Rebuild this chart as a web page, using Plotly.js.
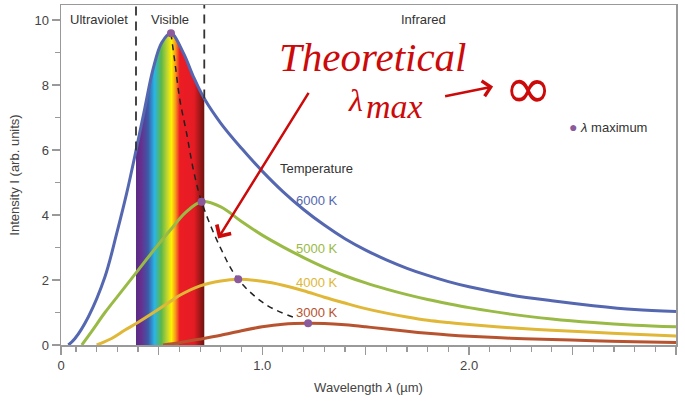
<!DOCTYPE html>
<html><head><meta charset="utf-8">
<script src="https://cdn.plot.ly/plotly-3.0.1.min.js"></script>
<style>html,body{margin:0;padding:0;background:#fff}#chart{width:685px;height:402px}</style>
</head><body><div id="chart"></div>
<script>
// Wavelength (µm) and intensity (arb. units)
const lam6000 = [0.063, 0.095, 0.16, 0.24, 0.297, 0.345, 0.39, 0.433, 0.473, 0.514, 0.559, 0.62, 0.667, 0.72, 0.8, 0.9, 1.0, 1.1, 1.2, 1.3, 1.4, 1.5, 1.6, 1.7, 1.8, 1.9, 2.0, 2.2, 2.4, 2.6, 2.8, 3.0];
const int6000 = [0, 0.2, 0.87, 2.1, 3.44, 4.67, 5.98, 7.3, 8.5, 9.3, 9.59, 8.97, 8.26, 7.58, 6.82, 6.05, 5.35, 4.72, 4.17, 3.69, 3.27, 2.92, 2.62, 2.36, 2.14, 1.95, 1.79, 1.54, 1.36, 1.21, 1.09, 1.03];
const lam5000 = [0.128, 0.176, 0.24, 0.32, 0.393, 0.48, 0.554, 0.63, 0.707, 0.8, 0.9, 1.0, 1.1, 1.2, 1.3, 1.4, 1.5, 1.6, 1.7, 1.8, 1.9, 2.0, 2.2, 2.4, 2.6, 2.8, 3.0];
const int5000 = [0, 0.42, 1.0, 1.65, 2.24, 2.95, 3.52, 4.08, 4.41, 4.25, 3.8, 3.38, 3.02, 2.69, 2.39, 2.13, 1.91, 1.72, 1.55, 1.40, 1.27, 1.15, 0.95, 0.80, 0.69, 0.61, 0.56];
const lam4000 = [0.2, 0.272, 0.337, 0.393, 0.482, 0.554, 0.602, 0.70, 0.80, 0.884, 1.0, 1.1, 1.2, 1.3, 1.4, 1.5, 1.6, 1.7, 1.8, 1.9, 2.0, 2.2, 2.4, 2.6, 2.8, 3.0];
const int4000 = [0, 0.2, 0.46, 0.67, 1.03, 1.33, 1.53, 1.82, 1.97, 2.02, 1.96, 1.84, 1.67, 1.47, 1.29, 1.12, 0.98, 0.86, 0.76, 0.69, 0.63, 0.53, 0.45, 0.39, 0.33, 0.28];
const lam3000 = [0.52, 0.6, 0.7, 0.8, 0.9, 1.0, 1.1, 1.222, 1.3, 1.4, 1.5, 1.6, 1.7, 1.8, 1.9, 2.0, 2.2, 2.4, 2.6, 2.8, 3.0];
const int3000 = [0, 0.07, 0.18, 0.30, 0.44, 0.56, 0.64, 0.67, 0.66, 0.62, 0.56, 0.49, 0.42, 0.36, 0.31, 0.27, 0.21, 0.17, 0.13, 0.10, 0.08];
const lamPeak = [0.559, 0.707, 0.884, 1.222];
const intPeak = [9.59, 4.41, 2.02, 0.67];
const lamWien = [0.559, 0.58, 0.602, 0.635, 0.667, 0.707, 0.796, 0.884, 1.021, 1.166];
const intWien = [9.59, 8.6, 7.54, 6.5, 5.4, 4.41, 3.02, 2.02, 1.23, 0.82];
const visibleRange = [0.39, 0.72];
const tempLabels = ['6000 K', '5000 K', '4000 K', '3000 K'];
const tempLabelY = [4.46, 2.98, 1.93, 1.0];
const regionNames = ['Ultraviolet', 'Visible', 'Infrared'];
const regionX = [0.21, 0.554, 1.78];
const xTickVals = [0.0275, 0.5, 1, 1.5, 2, 2.5, 3];
const xTickText = ['0', '', '1.0', '', '2.0', '', '3.0'];
const yTickVals = [0, 2, 4, 6, 8, 10];

const colors = ['#5467b0', '#99ba45', '#e0b737', '#b7532f'];
const purple = '#8a5a9a';
const hand = '#cc0a0a';

// visible band follows the 6000 K curve
const bandX = [], bandY = [];
lam6000.forEach((l, i) => { if (l >= visibleRange[0] && l <= visibleRange[1]) { bandX.push(l); bandY.push(int6000[i]); } });

const spectrum = [
  [0, '#5a2a85'], [0.08, '#66308f'], [0.18, '#3d5ba9'], [0.27, '#29b5e6'],
  [0.37, '#5cb748'], [0.46, '#c3d62f'], [0.52, '#fff200'], [0.58, '#f7941d'],
  [0.64, '#ec1c24'], [0.85, '#e51c24'], [1, '#6c130f']
];

const traces = [
  {x: bandX, y: bandY, mode: 'lines', line: {width: 0, shape: 'spline'}, fill: 'tozeroy',
   fillgradient: {type: 'horizontal', colorscale: spectrum}, hoverinfo: 'skip', showlegend: false},
  {x: lam6000, y: int6000, mode: 'lines', line: {color: colors[0], width: 3, shape: 'spline'}, name: '6000 K', showlegend: false},
  {x: lam5000, y: int5000, mode: 'lines', line: {color: colors[1], width: 3, shape: 'spline'}, name: '5000 K', showlegend: false},
  {x: lam4000, y: int4000, mode: 'lines', line: {color: colors[2], width: 3, shape: 'spline'}, name: '4000 K', showlegend: false},
  {x: lam3000, y: int3000, mode: 'lines', line: {color: colors[3], width: 3, shape: 'spline'}, name: '3000 K', showlegend: false},
  {x: lamWien, y: intWien, mode: 'lines', line: {color: '#222', width: 1.5, dash: '6px,5px', shape: 'spline'}, showlegend: false},
  {x: lamPeak, y: intPeak, mode: 'markers', marker: {color: purple, size: 8}, name: 'λ maximum', showlegend: false}
];

const font = 'Liberation Sans, Arial, sans-serif';
const annotations = [];
regionNames.forEach((t, i) => annotations.push({x: regionX[i], y: 10.0, xref: 'x', yref: 'y', text: t, showarrow: false, font: {family: font, size: 13, color: '#333'}}));
annotations.push({x: 1.076, y: 5.42, xref: 'x', yref: 'y', xanchor: 'left', text: 'Temperature', showarrow: false, font: {family: font, size: 13, color: '#333'}});
tempLabels.forEach((t, i) => annotations.push({x: 1.153, y: tempLabelY[i], xref: 'x', yref: 'y', xanchor: 'left', text: t, showarrow: false, font: {family: font, size: 13, color: colors[i]}}));
annotations.push({x: 2.475, y: 6.7, xref: 'x', yref: 'y', xanchor: 'left', text: '<span style="color:' + purple + ';font-size:14px">●</span> <i>λ</i> maximum', showarrow: false, font: {family: font, size: 13, color: '#333'}});
// handwritten red notes
const serif = 'Liberation Serif, serif';
annotations.push({x: 1.535, y: 8.85, xref: 'x', yref: 'y', text: 'Theoretical', showarrow: false, font: {family: serif, size: 41, color: hand, style: 'italic'}});
annotations.push({x: 1.45, y: 7.55, xref: 'x', yref: 'y', text: 'λ', showarrow: false, font: {family: serif, size: 32, color: hand, style: 'italic'}});
annotations.push({x: 1.64, y: 7.33, xref: 'x', yref: 'y', text: 'max', showarrow: false, font: {family: serif, size: 34, color: hand, style: 'italic'}});
annotations.push({x: 2.284, y: 7.9, xref: 'x', yref: 'y', text: '∞', showarrow: false, font: {family: 'DejaVu Sans, sans-serif', size: 58, color: hand}});
annotations.push({x: 2.116, y: 7.95, xref: 'x', yref: 'y', text: ' ', showarrow: true, ax: -50, ay: 10, arrowhead: 4, arrowsize: 1.2, arrowwidth: 2.5, arrowcolor: hand, standoff: 0, startstandoff: 0, font: {size: 2}});
annotations.push({x: 0.787, y: 3.28, xref: 'x', yref: 'y', text: ' ', showarrow: true, ax: 92, ay: -148, arrowhead: 4, arrowsize: 1.3, arrowwidth: 2.5, arrowcolor: hand, standoff: 0, startstandoff: 0, font: {size: 2}});

const shapes = visibleRange.map(v => ({
  type: 'line', xref: 'x', yref: 'y', x0: v, x1: v,
  y0: bandY[v === visibleRange[0] ? 0 : bandY.length - 1], y1: 10.46,
  line: {color: '#333', width: 1.8, dash: '9px,6px'}
}));

const layout = {
  width: 685, height: 402,
  margin: {l: 61, r: 9, t: 5, b: 57},
  paper_bgcolor: '#fff', plot_bgcolor: '#fff',
  showlegend: false,
  font: {family: font, size: 13, color: '#444'},
  xaxis: {
    range: [0.0275, 3.0], tickmode: 'array', tickvals: xTickVals, ticktext: xTickText,
    ticks: 'outside', ticklen: 8, tickwidth: 1.3, tickcolor: '#999',
    showline: true, linecolor: '#999', linewidth: 1.5, mirror: true,
    showgrid: false, zeroline: false,
    minor: {tickmode: 'linear', tick0: 0, dtick: 0.1, ticks: 'outside', ticklen: 5, tickwidth: 1.2, tickcolor: '#999', showgrid: false},
    tickfont: {family: font, size: 13, color: '#444'},
    title: {text: 'Wavelength <i>λ</i> (µm)', font: {family: font, size: 13, color: '#444'}, standoff: 11}
  },
  yaxis: {
    range: [0, 10.46], tickmode: 'array', tickvals: yTickVals,
    ticks: 'outside', ticklen: 8, tickwidth: 1.3, tickcolor: '#999',
    showline: true, linecolor: '#999', linewidth: 1.5, mirror: true,
    showgrid: false, zeroline: false,
    minor: {tickmode: 'linear', tick0: 0, dtick: 1, ticks: 'outside', ticklen: 5, tickwidth: 1.2, tickcolor: '#999', showgrid: false},
    tickfont: {family: font, size: 13, color: '#444'},
    title: {text: 'Intensity I (arb. units)', font: {family: font, size: 13, color: '#444'}, standoff: 12}
  },
  annotations: annotations,
  shapes: shapes
};

Plotly.newPlot('chart', traces, layout, {displayModeBar: false, staticPlot: true});
</script>
</body></html>
